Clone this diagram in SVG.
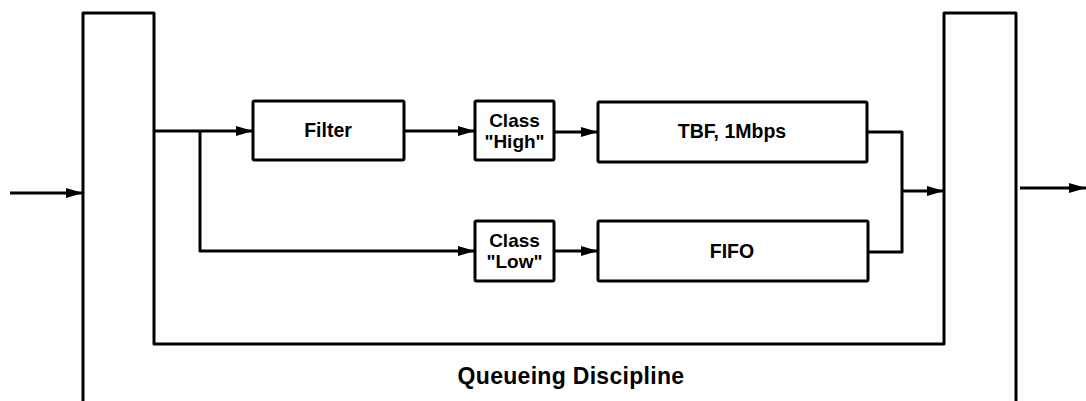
<svg xmlns="http://www.w3.org/2000/svg" width="1086" height="401" viewBox="0 0 1086 401">
<style>
.ln{fill:none;stroke:#000;stroke-width:3;stroke-linejoin:round}
.bx{fill:#fff;stroke:#000;stroke-width:3}
.t{font-family:"Liberation Sans",Arial,sans-serif;font-weight:bold;fill:#000;text-anchor:middle}
</style>
<defs>
<marker id="ah" markerUnits="userSpaceOnUse" markerWidth="18" markerHeight="11" refX="17" refY="5" orient="auto">
<path d="M0,0 L17,5 L0,10 z" fill="#000"/>
</marker>
</defs>
<rect width="1086" height="401" fill="#fff"/>
<g id="qdisc">
<path class="ln" d="M83,401 V13 H154 V344 H944 V13 H1016 V401"/>
<text class="t" x="571" y="384" font-size="23" letter-spacing="0.3">Queueing Discipline</text>
</g>
<g id="connectors">
<path class="ln" d="M10,193 H83" marker-end="url(#ah)"/>
<path class="ln" d="M154,131 H253" marker-end="url(#ah)"/>
<path class="ln" d="M200,131 V251 H475" marker-end="url(#ah)"/>
<path class="ln" d="M404,131 H475" marker-end="url(#ah)"/>
<path class="ln" d="M554,132 H598" marker-end="url(#ah)"/>
<path class="ln" d="M554,251 H598" marker-end="url(#ah)"/>
<path class="ln" d="M867,132 H902 V252 H867"/>
<path class="ln" d="M902,191 H944" marker-end="url(#ah)"/>
<path class="ln" d="M1020,188 H1086" marker-end="url(#ah)"/>
</g>
<g id="filter">
<rect class="bx" x="253" y="101" width="151" height="59" rx="1.5"/>
<text class="t" x="328" y="137" font-size="19.5">Filter</text>
</g>
<g id="classHigh">
<rect class="bx" x="475" y="101" width="79" height="59" rx="1.5"/>
<text class="t" x="514.5" y="127" font-size="19">Class</text>
<text class="t" x="514.5" y="148" font-size="19">"High"</text>
</g>
<g id="tbf">
<rect class="bx" x="598" y="102" width="269" height="60" rx="1.5"/>
<text class="t" x="732" y="138" font-size="19.5">TBF, 1Mbps</text>
</g>
<g id="classLow">
<rect class="bx" x="475" y="221" width="79" height="60" rx="1.5"/>
<text class="t" x="514.5" y="247" font-size="19">Class</text>
<text class="t" x="514.5" y="268" font-size="19">"Low"</text>
</g>
<g id="fifo">
<rect class="bx" x="598" y="221" width="270" height="60" rx="1.5"/>
<text class="t" x="732" y="258" font-size="19.5">FIFO</text>
</g>
</svg>
